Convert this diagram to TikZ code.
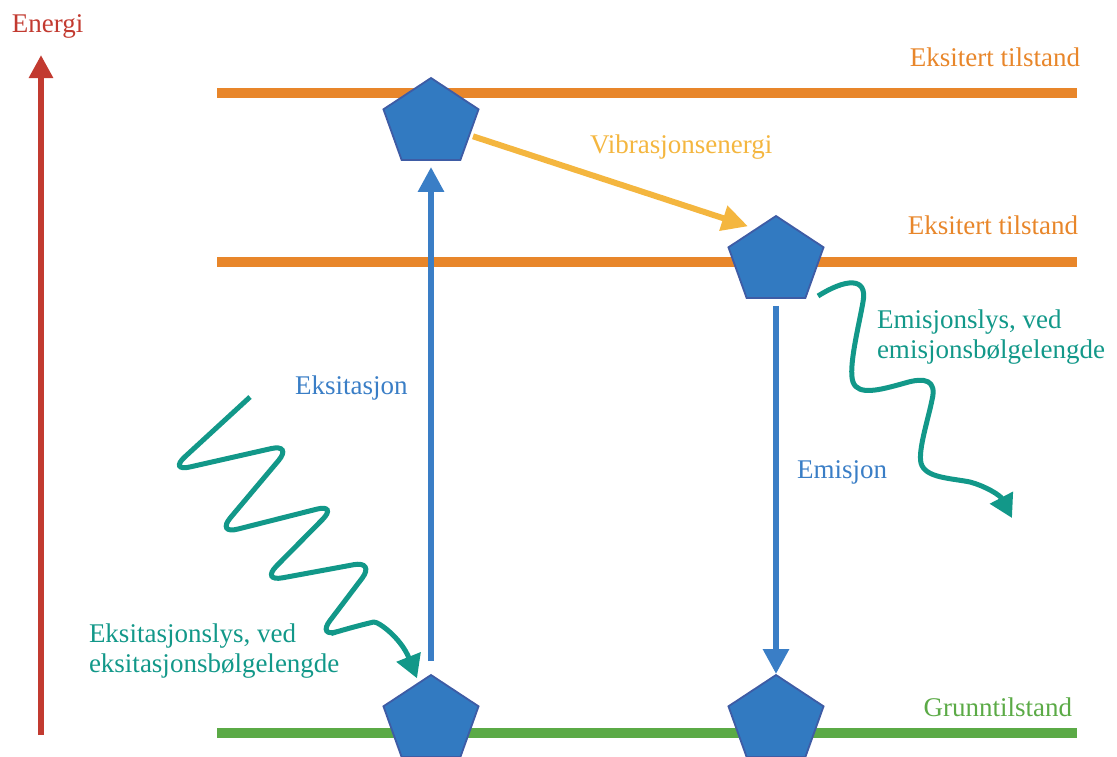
\documentclass[tikz,border=0pt]{standalone}
\usepackage{fontspec}
\setmainfont{Liberation Serif}
\usetikzlibrary{shapes.geometric,arrows.meta,calc}
\definecolor{ered}{RGB}{194,58,48}
\definecolor{eorange}{RGB}{232,134,42}
\definecolor{eyellow}{RGB}{244,182,63}
\definecolor{eblue}{RGB}{58,126,198}
\definecolor{pfill}{RGB}{50,122,193}
\definecolor{pline}{RGB}{62,92,165}
\definecolor{eteal}{RGB}{18,152,137}
\definecolor{egreen}{RGB}{91,170,70}
\begin{document}
\begin{tikzpicture}[x=1pt,y=-1pt,
  font=\fontsize{27}{30}\selectfont,
  lbl/.style={inner sep=0pt, outer sep=0pt},
  level/.style={line width=10pt},
  pent/.style={regular polygon, regular polygon sides=5, minimum size=100pt,
    inner sep=0pt, outer sep=0pt, yscale=0.906, fill=pfill, draw=pline, line width=1.8pt},
  bluearr/.style={draw=eblue, line width=6pt, -{Triangle[length=25pt,width=25pt]}},
  yelarr/.style={draw=eyellow, line width=6pt, -{Triangle[length=26pt,width=25pt]}},
  redarr/.style={draw=ered, line width=6pt, -{Triangle[length=23pt,width=23pt]}},
  wavearr/.style={draw=eteal, line width=5pt, -{Triangle[length=23pt,width=25pt]}}
]
\useasboundingbox (0,0) rectangle (1117,756);

% energy axis
\coordinate (ebot) at (41,735);
\coordinate (etop) at (41,55);
\draw[redarr] (ebot) -- (etop);
\node[lbl, text=ered, anchor=base west] (energi) at (12,32) {Energi};

% levels
\draw[level, draw=eorange] (217,92.5) -- (1077,92.5);
\draw[level, draw=eorange] (217,262) -- (1077,262);
\draw[level, draw=egreen] (217,732.5) -- (1077,732.5);

\node[lbl, text=eorange, anchor=base east] (ex1) at (1080,66) {Eksitert tilstand};
\node[lbl, text=eorange, anchor=base east] (ex2) at (1078,234) {Eksitert tilstand};
\node[lbl, text=egreen, anchor=base east] (gr) at (1072,716) {Grunntilstand};

% molecules
\node[pent] (p1) at (431,123.3) {};
\node[pent] (p2) at (776,261.3) {};
\node[pent] (p3) at (431,720.3) {};
\node[pent] (p4) at (776,720.3) {};

% transitions
\draw[bluearr, shorten <=14pt, shorten >=7pt] (p3.north) -- (p1.south);
\draw[bluearr, shorten <=8pt, shorten >=1pt] (p2.south) -- (p4.north);
\draw[yelarr] ($(p1.center)+(42,13)$) -- ($(p2.center)+(-28,-35)$);

\node[lbl, text=eyellow, anchor=base west] (vib) at (590,153) {Vibrasjonsenergi};
\node[lbl, text=eblue, anchor=base west] (eks) at (295,394) {Eksitasjon};
\node[lbl, text=eblue, anchor=base west] (emi) at (797,478) {Emisjon};

% excitation light
\coordinate (wl) at (250,397);
\draw[wavearr, rounded corners=22pt] (wl) -- (168.6,471.8) -- (292.7,443.7) -- (216.3,534.5)
  -- (338,503.8) -- (260.9,581.8) -- (375.4,560.7) -- (316.7,638.1) -- (352,627)
  .. controls (378,621) and (401,638) .. ($(p3.center)+(-14,-42)$);
\node[lbl, text=eteal, anchor=north west, align=left] (exl) at (89,623.5)
  {Eksitasjonslys, ved\\eksitasjonsbølgelengde};

% emission light
\coordinate (wr) at (818,296);
\coordinate (wrend) at (1012,518);
\draw[wavearr] (wr) .. controls (845,279) and (868,276) .. (863,302)
  .. controls (859,325) and (848,368) .. (853,382)
  .. controls (858,396) and (880,390) .. (905,383)
  .. controls (925,377) and (937,380) .. (932,400)
  .. controls (928,420) and (918,450) .. (921,463)
  .. controls (925,478) and (950,478) .. (970,482)
  .. controls (985,486) and (1000,495) .. (wrend);
\node[lbl, text=eteal, anchor=north west, align=left] (eml) at (877,309.5)
  {Emisjonslys, ved\\emisjonsbølgelengde};
\end{tikzpicture}
\end{document}
